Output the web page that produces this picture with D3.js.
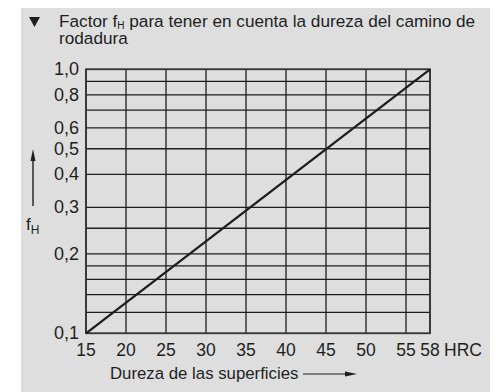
<!DOCTYPE html>
<html>
<head>
<meta charset="utf-8">
<script src="https://cdn.jsdelivr.net/npm/d3@7"></script>
<style>
  html, body { margin: 0; padding: 0; background: #ffffff; }
  svg { display: block; font-family: "Liberation Sans", Arial, Helvetica, sans-serif; }
</style>
</head>
<body>
<svg id="chart" width="504" height="392"></svg>
<script>
// Hardness factor f_H versus raceway surface hardness (HRC)
const hardness = [15, 58];
const factorH = [0.1, 1.0];
const xTicks = [15, 20, 25, 30, 35, 40, 45, 50, 55, 58];
const yGrid = [0.1, 0.12, 0.14, 0.16, 0.18, 0.2, 0.25, 0.3, 0.4, 0.5, 0.6, 0.7, 0.8, 0.9, 1.0];
const yLabels = [0.1, 0.2, 0.3, 0.4, 0.5, 0.6, 0.8, 1.0];
const titleLine1 = ["Factor f", "H", " para tener en cuenta la dureza del camino de"];
const titleLine2 = "rodadura";
const xTitle = "Dureza de las superficies";
const unitLabel = "HRC";

const svg = d3.select("#chart");
const ink = "#1e1e1e";
const fmt = v => d3.format(".1f")(v).replace(".", ",");

// panel background
svg.append("rect").attr("x", 21).attr("y", 8).attr("width", 469).attr("height", 384)
  .attr("fill", "#dedede");

const x = d3.scaleLinear().domain([15, 58]).range([86, 430]);
const y = d3.scaleLog().domain([0.1, 1.0]).range([333.3, 69.3]);

// title (two lines in one text block)
svg.append("path").attr("d", "M29,17 L40,17 L34.5,27 Z").attr("fill", ink);
const t1 = svg.append("text").attr("x", 59).attr("y", 27).attr("font-size", 17.2).attr("fill", ink);
t1.append("tspan").text(titleLine1[0]);
t1.append("tspan").attr("font-size", 10).attr("dy", 1.5).text(titleLine1[1]);
t1.append("tspan").attr("dy", -1.5).text(titleLine1[2]);
t1.append("tspan").attr("x", 59).attr("dy", 16.5).text(titleLine2);

// grid
const g = svg.append("g");
g.selectAll("line.h").data(yGrid).join("line").attr("class", "h")
  .attr("x1", x(15)).attr("x2", x(58))
  .attr("y1", d => y(d)).attr("y2", d => y(d))
  .attr("stroke", ink).attr("stroke-width", 1.3);
g.selectAll("line.v").data(xTicks).join("line").attr("class", "v")
  .attr("x1", d => x(d)).attr("x2", d => x(d))
  .attr("y1", y(0.1)).attr("y2", y(1.0))
  .attr("stroke", ink).attr("stroke-width", 1.3);
// frame
g.append("rect").attr("x", x(15)).attr("y", y(1.0))
  .attr("width", x(58) - x(15)).attr("height", y(0.1) - y(1.0))
  .attr("fill", "none").attr("stroke", "#333").attr("stroke-width", 1.7);

// factor line
const line = d3.line().x(d => x(d[0])).y(d => y(d[1]));
svg.append("path").datum(d3.zip(hardness, factorH)).attr("d", line)
  .attr("fill", "none").attr("stroke", ink).attr("stroke-width", 2.3);

// y tick labels
svg.selectAll("text.yl").data(yLabels).join("text").attr("class", "yl")
  .attr("x", 79).attr("y", d => y(d) + 6).attr("text-anchor", "end")
  .attr("font-size", 18).attr("fill", ink).text(d => fmt(d));

// x tick labels
svg.selectAll("text.xl").data(xTicks).join("text").attr("class", "xl")
  .attr("x", d => x(d)).attr("y", 356).attr("text-anchor", "middle")
  .attr("font-size", 17.5).attr("fill", ink).text(d => d);
svg.append("text").attr("x", 444).attr("y", 356).attr("font-size", 17.5).attr("fill", ink).text(unitLabel);

// x axis title with arrow
svg.append("text").attr("x", 110).attr("y", 379).attr("font-size", 16.8).attr("fill", ink).text(xTitle);
svg.append("line").attr("x1", 303).attr("x2", 348).attr("y1", 374).attr("y2", 374)
  .attr("stroke", ink).attr("stroke-width", 1.2);
svg.append("path").attr("d", "M357,374 L345,371.5 L345,376.5 Z").attr("fill", ink);

// y axis title with arrow
svg.append("line").attr("x1", 33).attr("x2", 33).attr("y1", 158).attr("y2", 206)
  .attr("stroke", ink).attr("stroke-width", 1.4);
svg.append("path").attr("d", "M33,149 L30.5,161 L35.5,161 Z").attr("fill", ink);
const yt = svg.append("text").attr("x", 26).attr("y", 230).attr("font-size", 17).attr("fill", ink);
yt.append("tspan").text("f");
yt.append("tspan").attr("font-size", 12).attr("dy", 4).text("H");
</script>
</body>
</html>
